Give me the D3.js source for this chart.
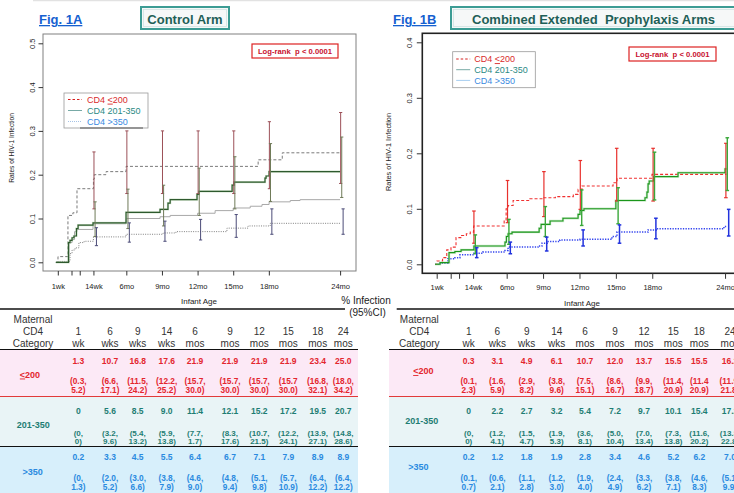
<!DOCTYPE html>
<html><head><meta charset="utf-8">
<script src="https://cdn.jsdelivr.net/npm/d3@7"></script>
<style>
body{margin:0;background:#fff;}
svg{display:block;font-family:"Liberation Sans",Arial,Helvetica,sans-serif;}
</style>
</head><body>
<svg id="c" width="734" height="493"></svg>
<script>
// ---------------- DATA ----------------
const tickWeeks = [1, 6, 9, 14, 26, 39, 52, 65, 78, 104];
const tickLabels = ["1wk", "", "", "14wk", "6mo", "9mo", "12mo", "15mo", "18mo", "24mo"];
const ciWeeks = [14, 26, 39, 52, 65, 78, 104];
const yTicksA = [0, 0.1, 0.2, 0.3, 0.4, 0.5];
const yTicksB = [0, 0.1, 0.2, 0.3, 0.4];

// Control arm step curves [week, rate]
const ctrl200 = [[0.3,0],[1.07,0.013],[4.7,0.107],[6.5,0.113],[8.0,0.168],[14.0,0.19],[14.3,0.2],[18.6,0.207],[25.9,0.219],[74.1,0.234],[82.9,0.25],[104,0.25]];
const ctrl201 = [[0.3,0],[4.9,0.045],[5.45,0.05],[6.2,0.056],[6.9,0.06],[7.8,0.077],[8.4,0.085],[13.85,0.09],[25.9,0.114],[38.3,0.121],[41.2,0.135],[42,0.143],[51.8,0.155],[52.5,0.162],[64.6,0.176],[65.3,0.183],[76.6,0.192],[77,0.197],[78.1,0.207],[104,0.207]];
const ctrlGray = [[0.3,0],[5.1,0.045],[6.2,0.052],[7.1,0.07],[8.0,0.075],[13.85,0.088],[25.9,0.1],[38.3,0.104],[42,0.107],[52,0.112],[58.4,0.118],[65,0.124],[71.2,0.128],[75.5,0.132],[78.1,0.138],[85.8,0.141],[89.4,0.143],[104,0.143]];
const ctrl350 = [[0.3,0],[1.07,0.002],[5.45,0.02],[6.2,0.028],[7.3,0.033],[8.7,0.045],[10.6,0.048],[14.0,0.058],[25.9,0.064],[39.4,0.067],[44.1,0.07],[62.7,0.078],[70.4,0.083],[78.5,0.089],[104,0.089]];

// Control arm CI bars (at ciWeeks)
const ctrlLo200 = [0.122,0.157,0.157,0.157,0.157,0.168,0.180];
const ctrlHi200 = [0.252,0.300,0.300,0.300,0.300,0.321,0.342];
const ctrlLo201 = [0.059,0.077,0.083,0.107,0.122,0.139,0.148];
const ctrlHi201 = [0.138,0.167,0.176,0.215,0.241,0.271,0.286];
const ctrlLo350 = [0.038,0.046,0.048,0.051,0.057,0.064,0.064];
const ctrlHi350 = [0.079,0.090,0.094,0.098,0.109,0.122,0.122];

// Combined extended prophylaxis step curves
const comb200 = [[0.4,0],[1.1,0.006],[3.1,0.012],[4.6,0.026],[6.1,0.031],[7.9,0.048],[9.9,0.052],[11.6,0.055],[13.0,0.058],[14.2,0.069],[25.1,0.08],[25.8,0.1],[26.5,0.106],[28.3,0.115],[34.3,0.118],[39,0.12],[43.4,0.122],[49.8,0.126],[51.5,0.135],[52.9,0.141],[64,0.147],[65.4,0.155],[77.9,0.162],[104.5,0.162]];
const comb201 = [[0.4,0],[2.2,0.003],[5.4,0.021],[7.5,0.023],[9.7,0.026],[14.3,0.033],[25.4,0.04],[25.9,0.05],[26.5,0.055],[27.9,0.058],[37.6,0.065],[38.3,0.072],[41.5,0.078],[46.1,0.083],[51.5,0.09],[52.2,0.097],[53.6,0.1],[65,0.115],[75.4,0.12],[76.1,0.13],[76.5,0.145],[76.9,0.15],[78.5,0.158],[87.2,0.165],[104,0.172],[104.5,0.172]];
const comb350 = [[0.4,0],[2.2,0.002],[5.0,0.01],[7.5,0.012],[9.3,0.017],[14.3,0.02],[17.5,0.022],[25.4,0.025],[26.5,0.031],[37.2,0.033],[38.6,0.038],[40.8,0.041],[45,0.044],[52.2,0.045],[63.6,0.05],[65.4,0.058],[76.5,0.062],[79.4,0.064],[103.6,0.068],[104.5,0.068]];

const combLo200 = [0.038,0.075,0.086,0.099,0.114,0.114,0.120];
const combHi200 = [0.096,0.151,0.167,0.187,0.209,0.209,0.218];
const combLo201 = [0.019,0.036,0.050,0.070,0.073,0.116,0.133];
const combHi201 = [0.053,0.081,0.104,0.134,0.138,0.202,0.228];
const combLo350 = [0.012,0.019,0.024,0.033,0.038,0.046,0.051];
const combHi350 = [0.030,0.040,0.049,0.062,0.071,0.083,0.099];

// Table
const colHead1 = ["1","6","9","14","6","9","12","15","18","24"];
const colHead2 = ["wk","wks","wks","wks","mos","mos","mos","mos","mos","mos"];
const rowLabels = ["200","201-350",">350"];

const ctrlPct200 = ["1.3","10.7","16.8","17.6","21.9","21.9","21.9","21.9","23.4","25.0"];
const ctrlCI200 = [["(0.3,","5.2)"],["(6.6,","17.1)"],["(11.5,","24.2)"],["(12.2,","25.2)"],["(15.7,","30.0)"],["(15.7,","30.0)"],["(15.7,","30.0)"],["(15.7","30.0)"],["(16.8,","32.1)"],["(18.0,","34.2)"]];
const ctrlPct201 = ["0","5.6","8.5","9.0","11.4","12.1","15.2","17.2","19.5","20.7"];
const ctrlCI201 = [["(0,","0)"],["(3.2,","9.6)"],["(5.4,","13.2)"],["(5.9,","13.8)"],["(7.7,","1.7)"],["(8.3,","17.6)"],["(10.7,","21.5)"],["(12.2,","24.1)"],["(13.9,","27.1)"],["(14.8,","28.6)"]];
const ctrlPct350 = ["0.2","3.3","4.5","5.5","6.4","6.7","7.1","7.9","8.9","8.9"];
const ctrlCI350 = [["(0,","1.3)"],["(2.0,","5.2)"],["(3.0,","6.6)"],["(3.8,","7.9)"],["(4.6,","9.0)"],["(4.8,","9.4)"],["(5.1,","9.8)"],["(5.7,","10.9)"],["(6.4,","12.2)"],["(6.4,","12.2)"]];

const combPct200 = ["0.3","3.1","4.9","6.1","10.7","12.0","13.7","15.5","15.5","16.2"];
const combCI200 = [["(0.1,","2.3)"],["(1.6,","5.9)"],["(2.9,","8.2)"],["(3.8,","9.6)"],["(7.5,","15.1)"],["(8.6,","16.7)"],["(9.9,","18.7)"],["(11.4,","20.9)"],["(11.4","20.9)"],["(11.9,","21.8)"]];
const combPct201 = ["0","2.2","2.7","3.2","5.4","7.2","9.7","10.1","15.4","17.2"];
const combCI201 = [["(0,","0)"],["(1.2,","4.1)"],["(1.5,","4.7)"],["(1.9,","5.3)"],["(3.6,","8.1)"],["(5.0,","10.4)"],["(7.0,","13.4)"],["(7.3,","13.8)"],["(11.6,","20.2)"],["(13.3,","22.8)"]];
const combPct350 = ["0.2","1.2","1.8","1.9","2.8","3.4","4.6","5.2","6.2","7.0"];
const combCI350 = [["(0.1,","0.7)"],["(0.6,","2.1)"],["(1.1,","2.8)"],["(1.2,","3.0)"],["(1.9,","4.0)"],["(2.4,","4.9)"],["(3.3,","6.2)"],["(3.8,","7.1)"],["(4.6,","8.3)"],["(5.1,","9.9)"]];

// ---------------- DRAW ----------------
const svg = d3.select("#c");
svg.append("line").attr("x1",33).attr("x2",734).attr("y1",0.5).attr("y2",0.5).attr("stroke","#e2e2e2").attr("stroke-width",1.5);

const RED = "#e3262e", TEAL = "#1e7d73", BLUE = "#2a8ae0";

function headerBlock(o){
  svg.append("text").attr("x",o.figX).attr("y",24).attr("font-size",13).attr("font-weight","bold")
    .attr("fill","#1560d0").style("text-decoration","underline").text(o.fig);
  svg.append("rect").attr("x",o.boxX).attr("y",7).attr("width",o.boxW).attr("height",22)
    .attr("fill","#f6f8f8").attr("stroke","#3c9c94").attr("stroke-width",2);
  svg.append("rect").attr("x",o.boxX+2.5).attr("y",9.5).attr("width",o.boxW-5).attr("height",17)
    .attr("fill","none").attr("stroke","#cfe3e1").attr("stroke-width",0.8);
  svg.append("text").attr("x",o.titleX).attr("y",24).attr("text-anchor","middle").attr("font-size",13)
    .attr("font-weight","bold").attr("fill","#1f5f57").style("white-space","pre").text(o.title);
}

function drawChart(o){
  const g = svg.append("g");
  const x = d3.scaleLinear().domain(o.xDomain).range([o.left, o.right]);
  const y = d3.scaleLinear().domain(o.yDomain).range(o.yRange);
  g.append("rect").attr("x",o.left).attr("y",o.top).attr("width",o.right-o.left).attr("height",o.bottom-o.top)
    .attr("fill","none").attr("stroke",o.frameColor).attr("stroke-width",o.frameW);
  const ya = g.append("g").attr("transform",`translate(${o.left},0)`)
    .call(d3.axisLeft(y).tickValues(o.yTicks).tickFormat(d3.format(".1f")).tickSize(o.tick).tickSizeOuter(0));
  ya.select(".domain").remove();
  ya.selectAll(".tick line").attr("stroke","#333");
  ya.selectAll(".tick text").attr("font-size",7.5).attr("fill","#222")
    .each(function(){
      d3.select(this).attr("x",null).attr("text-anchor","middle")
       .attr("transform",`translate(${o.yLabX-o.left},0) rotate(-90)`).attr("y",0).attr("dy","0.35em");
    });
  const xa = g.append("g").attr("transform",`translate(0,${o.bottom})`)
    .call(d3.axisBottom(x).tickValues(tickWeeks).tickFormat((d,i)=>tickLabels[i]).tickSize(o.tick).tickSizeOuter(0));
  xa.select(".domain").remove();
  xa.selectAll(".tick line").attr("stroke","#333");
  xa.selectAll(".tick text").attr("font-size",7.5).attr("fill","#222")
    .attr("y",o.xLabY-o.bottom).attr("dy","0.35em");
  g.append("text").attr("x",o.xTitleX).attr("y",o.xTitleY).attr("text-anchor","middle").attr("font-size",8)
    .attr("fill","#222").text("Infant Age");
  g.append("text").attr("transform",`translate(${o.yTitleX},${o.yTitleY}) rotate(-90)`).attr("text-anchor","middle")
    .attr("font-size",o.yTitleFs).attr("fill","#222").attr("dy","0.35em").text("Rates of HIV-1 Infection");

  const line = d3.line().curve(d3.curveStepAfter).x(d=>x(d[0])).y(d=>y(d[1]));
  o.series.forEach(s=>{
    if(s.shadow) g.append("path").attr("d",line(s.data)).attr("fill","none").attr("stroke",s.shadow).attr("stroke-width",s.shadowW).attr("opacity",0.6);
    g.append("path").attr("d",line(s.data)).attr("fill","none").attr("stroke",s.color).attr("stroke-width",s.width)
      .attr("stroke-dasharray",s.dash||null);
  });
  o.bars.forEach(b=>{
    ciWeeks.forEach((w,i)=>{
      const cx = x(w+b.off);
      g.append("line").attr("x1",cx).attr("x2",cx).attr("y1",y(b.lo[i])).attr("y2",y(b.hi[i])).attr("stroke",b.color).attr("stroke-width",b.w);
      [b.lo[i],b.hi[i]].forEach(v=>g.append("line").attr("x1",cx-o.cap).attr("x2",cx+o.cap).attr("y1",y(v)).attr("y2",y(v)).attr("stroke",b.color).attr("stroke-width",b.w));
    });
  });
  g.append("rect").attr("x",o.lrX).attr("y",o.lrY).attr("width",o.lrW).attr("height",14).attr("fill","#fff").attr("stroke","#d22").attr("stroke-width",1.2);
  g.append("text").attr("x",o.lrX+o.lrW/2).attr("y",o.lrY+9.7).attr("text-anchor","middle").attr("font-size",7.7).attr("font-weight","bold")
    .attr("fill","#c8102e").style("white-space","pre").text("Log-rank  p < 0.0001");
  g.append("rect").attr("x",o.lgX).attr("y",o.lgY).attr("width",o.lgW).attr("height",o.lgH).attr("fill","#fff").attr("stroke","#999").attr("stroke-width",0.8);
  if(o.lgShadow) g.append("line").attr("x1",o.lgX+16).attr("x2",o.lgX+o.lgW-5).attr("y1",o.lgY+o.lgH).attr("y2",o.lgY+o.lgH).attr("stroke","#555").attr("stroke-width",1.2);
  o.legend.forEach((L,i)=>{
    const cy = o.lgY+o.lgPad+i*o.lgStep;
    g.append("line").attr("x1",o.lgX+o.lgS0).attr("x2",o.lgX+o.lgS1).attr("y1",cy).attr("y2",cy).attr("stroke",L.color).attr("stroke-width",1).attr("stroke-dasharray",L.dash||null);
    const t = g.append("text").attr("x",o.lgX+o.lgT).attr("y",cy).attr("dy","0.35em").attr("font-size",9).attr("fill",L.tcolor);
    if(i===0){ t.append("tspan").text("CD4 "); t.append("tspan").style("text-decoration","underline").text("<"); t.append("tspan").text("200"); }
    else t.text(L.label);
  });
}

headerBlock({fig:"Fig. 1A", figX:39, boxX:141, boxW:88, titleX:185, title:"Control Arm"});
headerBlock({fig:"Fig. 1B", figX:393, boxX:451, boxW:300, titleX:593.5, title:"Combined Extended  Prophylaxis Arms"});

drawChart({
  xDomain:[-4.4,109.8], left:43, right:356, top:34, bottom:271,
  yDomain:[0,0.5], yRange:[262.3,43.3], yTicks:yTicksA, tick:4.5,
  frameColor:"#808080", frameW:1, yLabX:32, xLabY:286, xTitleX:199, xTitleY:304,
  yTitleX:12, yTitleY:148, yTitleFs:6.6,
  series:[
    {data:ctrlGray, color:"#a8a8a8", width:1},
    {data:ctrl350, color:"#808080", width:1, dash:"1,1.3"},
    {data:ctrl200, color:"#7a7a7a", width:1, dash:"3,2"},
    {data:ctrl201, color:"#2e5a2e", width:1.2, shadow:"#b5d3ae", shadowW:2.2}
  ],
  bars:[
    {lo:ctrlLo200, hi:ctrlHi200, color:"#9c5058", off:0.2, w:1},
    {lo:ctrlLo201, hi:ctrlHi201, color:"#6f7a58", off:0.6, w:1},
    {lo:ctrlLo350, hi:ctrlHi350, color:"#4c4c78", off:1.1, w:1}
  ], cap:1.6,
  lrX:252, lrY:44, lrW:86,
  lgX:64, lgY:93, lgW:84, lgH:35, lgPad:6.5, lgStep:11, lgS0:4, lgS1:18, lgT:23, lgShadow:true,
  legend:[
    {color:"#d62020", dash:"2.5,2", tcolor:"#d92b2b"},
    {color:"#78aaa6", label:"CD4 201-350", tcolor:"#2b8a84"},
    {color:"#a6c3e6", dash:"1,1", label:"CD4 >350", tcolor:"#3a8ae0"}
  ]
});

drawChart({
  xDomain:[-4.14,108.16], left:422.3, right:736.7, top:33.3, bottom:273.3,
  yDomain:[0,0.4], yRange:[264.3,42.3], yTicks:yTicksB, tick:5.5,
  frameColor:"#222", frameW:1.6, yLabX:409, xLabY:287, xTitleX:582, xTitleY:306,
  yTitleX:388, yTitleY:152, yTitleFs:7.4,
  series:[
    {data:comb350, color:"#3344ee", width:1.5, dash:"1.3,1.3"},
    {data:comb200, color:"#f03030", width:1.1, dash:"3,2"},
    {data:comb201, color:"#1b961b", width:1.1, shadow:"#aadcaa", shadowW:2.4}
  ],
  bars:[
    {lo:combLo200, hi:combHi200, color:"#e8302c", off:0.3, w:1.2},
    {lo:combLo201, hi:combHi201, color:"#3aa83a", off:0.8, w:1.4},
    {lo:combLo350, hi:combHi350, color:"#2233dd", off:1.3, w:1.5}
  ], cap:1.8,
  lrX:629, lrY:47, lrW:87,
  lgX:452.7, lgY:51.7, lgW:82.6, lgH:36, lgPad:7.3, lgStep:10.7, lgS0:3.5, lgS1:17.5, lgT:21.5, lgShadow:false,
  legend:[
    {color:"#d62020", dash:"2.5,2", tcolor:"#d92b2b"},
    {color:"#78aaa6", label:"CD4 201-350", tcolor:"#2b8a84"},
    {color:"#a6cdf0", label:"CD4 >350", tcolor:"#3a8ae0"}
  ]
});

svg.append("text").attr("x",366).attr("y",303.5).attr("text-anchor","middle").attr("font-size",10).attr("fill","#222").text("% Infection");
svg.append("text").attr("x",367.5).attr("y",316).attr("text-anchor","middle").attr("font-size",10).attr("fill","#222").text("(95%CI)");

function drawTable(o){
  const g = svg.append("g");
  const bgs = [["#fce9f6",349.5,396.5],["#e9f4f6",396.5,446.5],["#d7effb",446.5,493]];
  bgs.forEach(b=>g.append("rect").attr("x",o.x0).attr("y",b[1]).attr("width",o.x1-o.x0).attr("height",b[2]-b[1]).attr("fill",b[0]));
  g.append("line").attr("x1",o.topX0).attr("x2",o.topX1).attr("y1",309).attr("y2",309).attr("stroke","#111").attr("stroke-width",1.4);
  g.append("line").attr("x1",o.x0).attr("x2",o.x1).attr("y1",349.5).attr("y2",349.5).attr("stroke","#111").attr("stroke-width",1.2);
  g.append("line").attr("x1",o.x0).attr("x2",o.x1).attr("y1",396.5).attr("y2",396.5).attr("stroke","#e23a3a").attr("stroke-width",1);
  g.append("line").attr("x1",o.x0).attr("x2",o.x1).attr("y1",446.5).attr("y2",446.5).attr("stroke","#111").attr("stroke-width",1.2);
  [["Maternal",322.5],["CD4",335],["Category",347]].forEach(h=>g.append("text").attr("x",o.labX).attr("y",h[1]).attr("text-anchor","middle").attr("font-size",10).attr("fill","#333").text(h[0]));
  o.cols.forEach((cx,i)=>{
    g.append("text").attr("x",cx).attr("y",335).attr("text-anchor","middle").attr("font-size",10).attr("fill","#333").text(colHead1[i]);
    g.append("text").attr("x",cx).attr("y",347).attr("text-anchor","middle").attr("font-size",10).attr("fill","#333").text(colHead2[i]);
  });
  const rows = [
    {pct:o.p200, ci:o.c200, col:RED, vY:364, lY:o.l200, lX:o.lx200, c1:383.5, c2:393, fs:8.3},
    {pct:o.p201, ci:o.c201, col:TEAL, vY:413.5, lY:o.l201, lX:o.lx201, c1:435.5, c2:444, fs:8},
    {pct:o.p350, ci:o.c350, col:BLUE, vY:460, lY:o.l350, lX:o.lx350, c1:481, c2:490, fs:8.3}
  ];
  rows.forEach((r,ri)=>{
    const lt = g.append("text").attr("x",r.lX).attr("y",r.lY).attr("text-anchor","middle").attr("font-size",9).attr("font-weight","bold").attr("fill",r.col);
    if(ri===0){ lt.append("tspan").style("text-decoration","underline").text("<"); lt.append("tspan").text(rowLabels[0]); }
    else lt.text(rowLabels[ri]);
    o.cols.forEach((cx,i)=>{
      g.append("text").attr("x",cx).attr("y",r.vY).attr("text-anchor","middle").attr("font-size",8.5).attr("font-weight","bold").attr("fill",r.col).text(r.pct[i]);
      g.append("text").attr("x",cx).attr("y",r.c1).attr("text-anchor","middle").attr("font-size",r.fs).attr("font-weight","bold").attr("fill",r.col).text(r.ci[i][0]);
      g.append("text").attr("x",cx).attr("y",r.c2).attr("text-anchor","middle").attr("font-size",r.fs).attr("font-weight","bold").attr("fill",r.col).text(r.ci[i][1]);
    });
  });
}

drawTable({x0:0, x1:358, topX0:0, topX1:345, labX:33,
  cols:[78.3,110,137.7,166.7,195,230,259.3,288.3,317.7,343.3],
  p200:ctrlPct200, c200:ctrlCI200, p201:ctrlPct201, c201:ctrlCI201, p350:ctrlPct350, c350:ctrlCI350,
  l200:377.5, lx200:30, l201:427.5, lx201:33.3, l350:474.5, lx350:32.7});
drawTable({x0:389, x1:734, topX0:396.7, topX1:734, labX:419.3,
  cols:[468.7,497.3,526.7,556.7,585,615,644,673.3,699.3,730],
  p200:combPct200, c200:combCI200, p201:combPct201, c201:combCI201, p350:combPct350, c350:combCI350,
  l200:374, lx200:423.3, l201:423.5, lx201:421.7, l350:470, lx350:418.3});
</script>
</body></html>
